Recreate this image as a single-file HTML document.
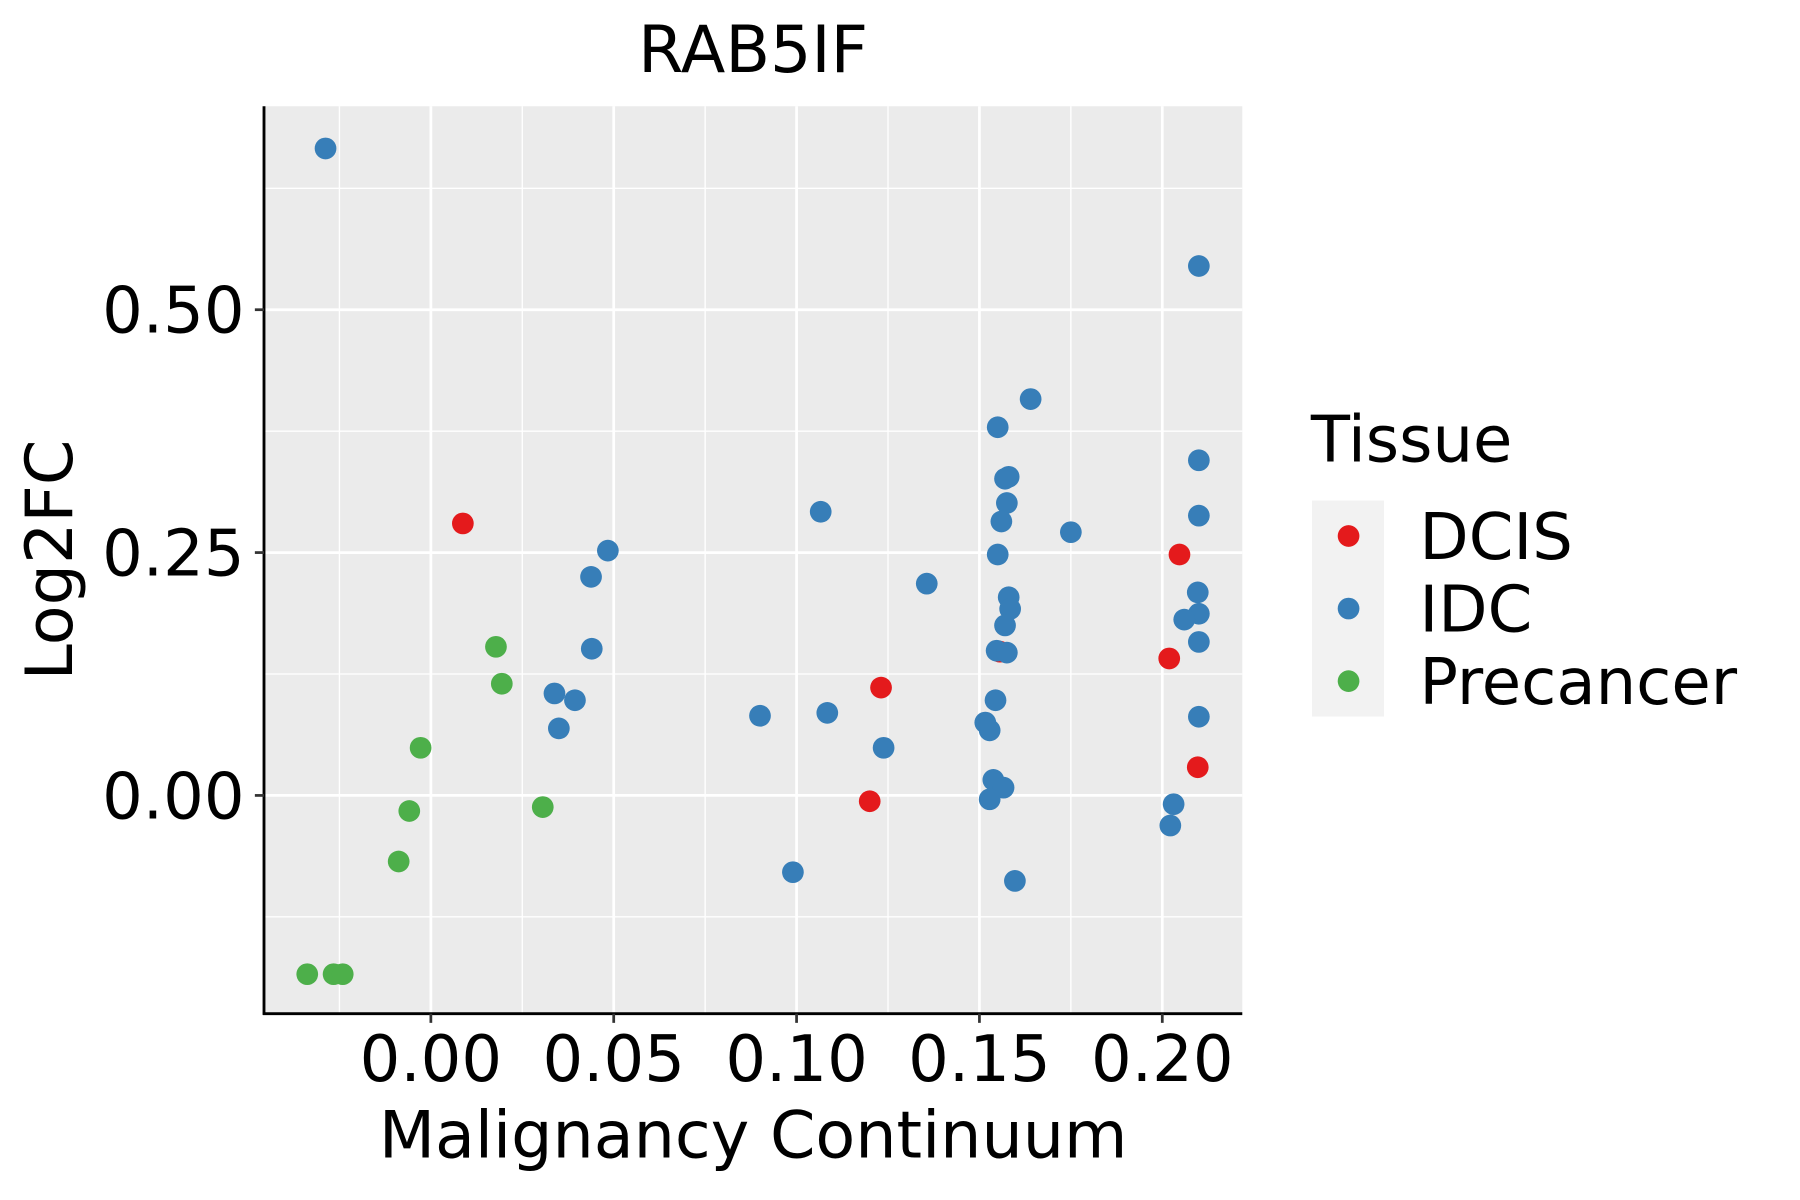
<!DOCTYPE html>
<html><head><meta charset="utf-8"><style>body{margin:0;background:#fff}svg{display:block}text{font-family:"DejaVu Sans","Liberation Sans",sans-serif}</style></head>
<body>
<svg id="chart" width="1800" height="1200" viewBox="0 0 1575 1050" xmlns="http://www.w3.org/2000/svg">
<rect width="1575" height="1050" fill="#fff"/>
<rect x="231" y="93" width="856" height="794" fill="#EBEBEB"/>
<g id="grid"></g>
<g id="pts"></g>
<line x1="231" y1="93" x2="231" y2="888" stroke="#000" stroke-width="2.5"/>
<line x1="230" y1="887" x2="1087" y2="887" stroke="#000" stroke-width="2.5"/>
<g id="ticks"></g>
<text x="659" y="63" font-size="57" text-anchor="middle">RAB5IF</text>
<text x="659" y="1013" font-size="57" text-anchor="middle">Malignancy Continuum</text>
<text transform="translate(63,490) rotate(-90)" font-size="57" text-anchor="middle">Log2FC</text>
<text x="1147" y="404" font-size="56">Tissue</text>
<rect x="1148" y="438" width="63" height="189" fill="#F2F2F2"/>
<g id="legend"></g>
</svg>
<script>
const categories = ["DCIS","IDC","Precancer"];
const colors = ["#E41A1C","#377EB8","#4DAF4A"];
const xTicks = [0,0.05,0.10,0.15,0.20];
const xTickLabels = ["0.00","0.05","0.10","0.15","0.20"];
const yTicks = [0,0.25,0.5];
const yTickLabels = ["0.00","0.25","0.50"];
const dcisX = [0.00875,0.2047,0.1556,0.2019,0.1231,0.2097,0.12];
const dcisY = [0.28,0.248,0.148,0.141,0.111,0.029,-0.006];
const idcX = [-0.0288,0.21,0.164,0.155,0.21,0.157,0.158,0.1575,0.1066,0.175,0.21,0.156,0.0484,0.155,0.0438,0.1356,0.2097,0.158,0.1584,0.21,0.206,0.157,0.21,0.044,0.1547,0.1575,0.0338,0.0394,0.1544,0.035,0.09,0.1084,0.1516,0.1528,0.21,0.1238,0.1538,0.1566,0.1528,0.2031,0.2022,0.099,0.1597];
const idcY = [0.666,0.545,0.408,0.379,0.345,0.326,0.328,0.301,0.292,0.271,0.288,0.282,0.252,0.248,0.225,0.218,0.209,0.204,0.192,0.187,0.181,0.175,0.158,0.151,0.149,0.147,0.105,0.098,0.098,0.069,0.082,0.085,0.075,0.067,0.081,0.049,0.016,0.008,-0.004,-0.009,-0.031,-0.079,-0.088];
const preX = [0.0178,0.0194,-0.0028,-0.0059,0.0306,-0.0088,-0.0338,-0.0266,-0.0241];
const preY = [0.153,0.115,0.049,-0.016,-0.012,-0.068,-0.184,-0.184,-0.184];

const NS="http://www.w3.org/2000/svg";
const xs = v => 377 + v*3200;
const ys = v => 696 - v*850;
function mk(tag, attrs, parent){const e=document.createElementNS(NS,tag);for(const k in attrs)e.setAttribute(k,attrs[k]);parent.appendChild(e);return e;}
const grid=document.getElementById('grid'), ticks=document.getElementById('ticks');
const xMinor=[-0.025,0.025,0.075,0.125,0.175];
const yMinor=[-0.125,0.125,0.375,0.625];
xMinor.forEach(v=>{const l=mk('line',{x1:xs(v),x2:xs(v),y1:93,y2:887,stroke:'#fff','stroke-width':1.2},grid);

});
yMinor.forEach(v=>{const l=mk('line',{x1:231,x2:1087,y1:ys(v),y2:ys(v),stroke:'#fff','stroke-width':1.2},grid);

});
xTicks.forEach((v,i)=>{const l=mk('line',{x1:xs(v),x2:xs(v),y1:93,y2:887,stroke:'#fff','stroke-width':2.4},grid);


const t=mk('line',{x1:xs(v),x2:xs(v),y1:887,y2:895,stroke:'#333','stroke-width':2.4},ticks);


const tx=mk('text',{x:xs(v),y:946,'font-size':56,'text-anchor':'middle'},ticks);tx.textContent=xTickLabels[i];

});
yTicks.forEach((v,i)=>{const l=mk('line',{x1:231,x2:1087,y1:ys(v),y2:ys(v),stroke:'#fff','stroke-width':2.4},grid);


const t=mk('line',{x1:223,x2:231,y1:ys(v),y2:ys(v),stroke:'#333','stroke-width':2.4},ticks);


const tx=mk('text',{x:214,y:ys(v)+20,'font-size':56,'text-anchor':'end'},ticks);tx.textContent=yTickLabels[i];

});
const pts=document.getElementById('pts');
[[dcisX,dcisY],[idcX,idcY],[preX,preY]].forEach((s,ci)=>{s[0].forEach((x,j)=>{
const c=mk('circle',{cx:xs(x),cy:ys(s[1][j]),r:9.5,fill:colors[ci]},pts);

});});
const lg=document.getElementById('legend');
categories.forEach((c,i)=>{const y=469+i*63.5;
const k=mk('circle',{cx:1180,cy:y,r:9.5,fill:colors[i]},lg);


const t=mk('text',{x:1242,y:y+20,'font-size':56},lg);t.textContent=c;

});
</script>
</body></html>
